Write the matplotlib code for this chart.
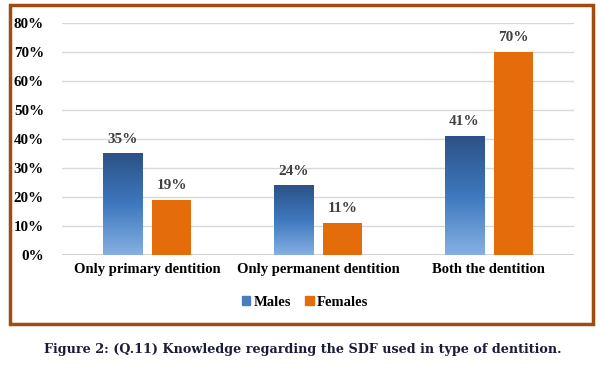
import numpy as np
import matplotlib.pyplot as plt
from matplotlib.colors import LinearSegmentedColormap
from matplotlib.patches import Rectangle

categories = ["Only primary dentition", "Only permanent dentition", "Both the dentition"]
males = [35, 24, 41]
females = [19, 11, 70]
yticks = [0, 10, 20, 30, 40, 50, 60, 70, 80]

SERIF = ["Liberation Serif", "DejaVu Serif"]
ORANGE = "#E46C0A"
blue_cmap = LinearSegmentedColormap.from_list("males", ["#2C5286", "#3E78BE", "#86B0E2"])

fig = plt.figure(figsize=(6, 3.68), dpi=100)
ax = fig.add_axes([62 / 600, 1 - 254.7 / 368, 512 / 600, 232 / 368])

x = np.arange(len(categories))
w = 0.229
off = 0.144
mbars = ax.bar(x - off, males, w, color="#4A7EBB", zorder=2)
fbars = ax.bar(x + off, females, w, color=ORANGE, zorder=2)

# gradient fill for the male bars
grad = np.linspace(0, 1, 256).reshape(-1, 1)
for b in mbars:
    b.set_facecolor("none")
    bx, by = b.get_x(), b.get_y()
    bw, bh = b.get_width(), b.get_height()
    im = ax.imshow(grad, cmap=blue_cmap, aspect="auto", origin="upper",
                   extent=[bx, bx + bw, by, by + bh], zorder=2)
    im.set_clip_path(b)

for bars, vals in ((mbars, males), (fbars, females)):
    for b, v in zip(bars, vals):
        ax.text(b.get_x() + b.get_width() / 2, v + 2.6, f"{v}%", ha="center", va="bottom",
                fontsize=11, fontweight="bold", color="#404040", family=SERIF)

ax.set_xlim(-0.5, 2.5)
ax.set_ylim(0, 80)
ax.set_yticks(yticks)
ax.set_yticklabels([f"{t}%" for t in yticks], fontsize=10.8, fontweight="bold", family=SERIF)
ax.set_xticks(x)
ax.set_xticklabels(categories, fontsize=10.5, fontweight="bold", family=SERIF)
ax.tick_params(length=0, pad=6)
ax.tick_params(axis="y", pad=13)
ax.yaxis.grid(True, color="#D9D9D9", lw=1)
ax.axhline(0, color="#CFCFCF", lw=1.3, zorder=1)
ax.set_axisbelow(True)
for s in ax.spines.values():
    s.set_visible(False)

leg = fig.legend(handles=[Rectangle((0, 0), 1, 1, color="#4A7EBB"), Rectangle((0, 0), 1, 1, color=ORANGE)],
                 labels=["Males", "Females"], loc="center", bbox_to_anchor=(305 / 600, 1 - 302 / 368),
                 ncol=2, frameon=False, handlelength=0.6, handleheight=0.6, handletextpad=0.2,
                 columnspacing=1.0, prop={"family": SERIF, "weight": "bold", "size": 10.5})

# brown frame around the chart
fig.patches.append(Rectangle((10 / 600, 1 - 324 / 368), 583 / 600, 319 / 368, transform=fig.transFigure,
                             fill=False, edgecolor="#9E4C10", lw=2.5))

fig.text(0.504, 1 - 349 / 368, "Figure 2: (Q.11) Knowledge regarding the SDF used in type of dentition.",
         ha="center", va="center", fontsize=9.2, fontweight="bold", color="#1C1C3A", family=["DejaVu Serif"])

fig.savefig("out.png", dpi=100)
